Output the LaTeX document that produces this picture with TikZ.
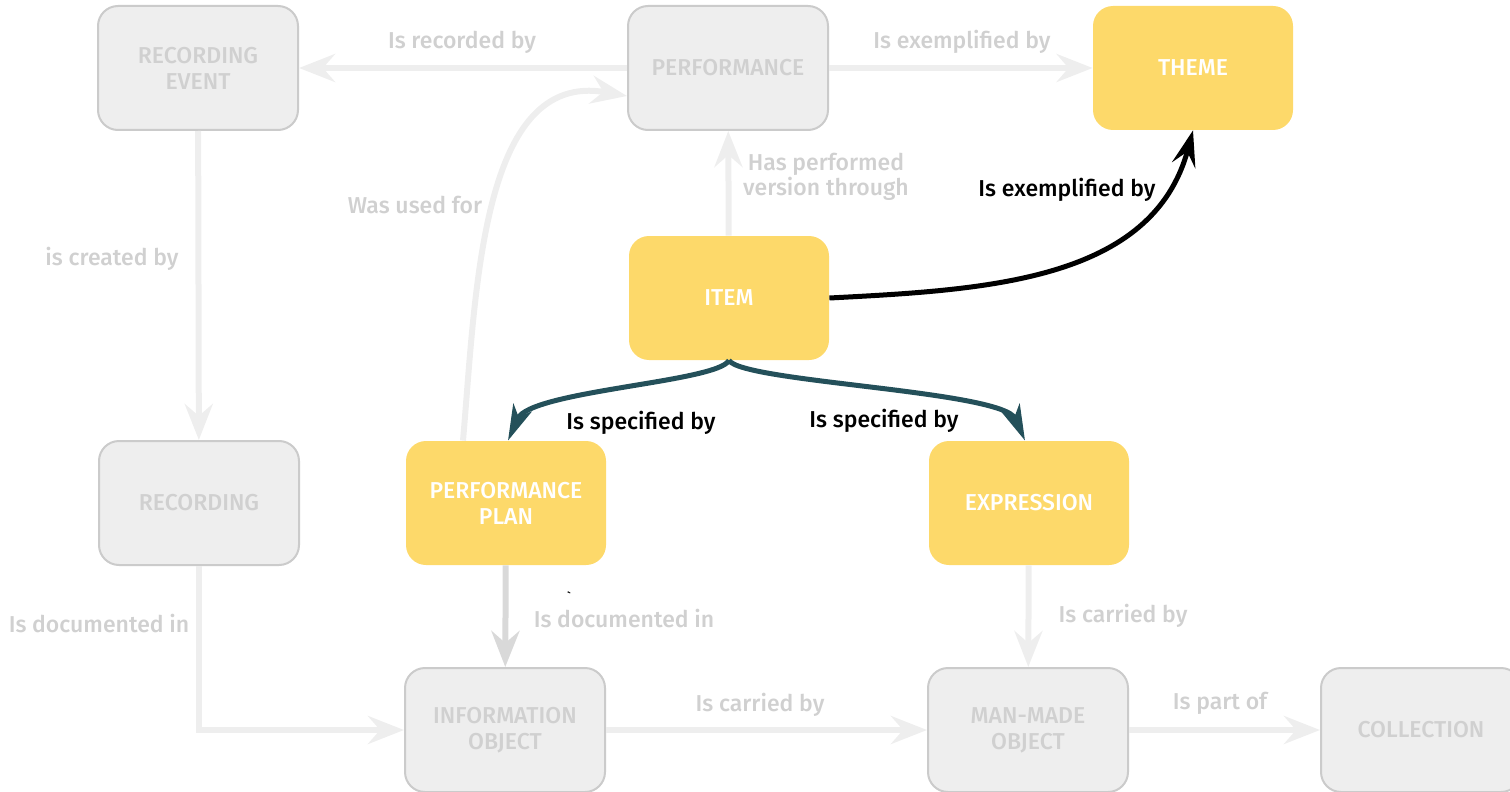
\documentclass[tikz,border=0pt]{standalone}
\usepackage{fontspec}
\setmainfont{Fira Sans Medium}
\usetikzlibrary{arrows.meta}

\definecolor{boxgray}{HTML}{EEEEEE}
\definecolor{boxline}{HTML}{CBCBCB}
\definecolor{textgray}{HTML}{D0D0D0}
\definecolor{linegray}{HTML}{EEEEEE}
\definecolor{linedark}{HTML}{D9D9D9}
\definecolor{boxyellow}{HTML}{FDD96A}
\definecolor{teallink}{HTML}{24505A}

\begin{document}
\begin{tikzpicture}[x=0.5pt,y=0.5pt,
  box/.style={rectangle,rounded corners=10pt,minimum width=100pt,minimum height=62pt,
    align=center,font=\fontsize{11.5}{13}\selectfont},
  greybox/.style={box,fill=boxgray,draw=boxline,line width=1pt,text=textgray},
  yellowbox/.style={box,fill=boxyellow,text=white},
  lbl/.style={font=\fontsize{11.5}{12.5}\selectfont,text=textgray,align=center,inner sep=1pt},
  darklbl/.style={lbl,text=black},
  greyarrow/.style={draw=linegray,line width=3pt,
    -{Stealth[length=18pt,width=14pt,inset=6pt]}},
  tealarrow/.style={draw=teallink,line width=2.5pt,
    -{Stealth[length=18pt,width=10pt,inset=5pt]}},
  blackarrow/.style={draw=black,line width=2.5pt,
    -{Stealth[length=18pt,width=12pt,inset=7pt]}}]
\useasboundingbox (0,0) rectangle (1510,-792);

% the boxes
\node[greybox] (recevent) at (198,-68) {RECORDING\\EVENT};
\node[greybox] (perf) at (728,-68) {PERFORMANCE};
\node[yellowbox] (theme) at (1193,-68) {THEME};
\node[yellowbox] (item) at (729,-298) {ITEM};
\node[greybox] (rec) at (199,-503) {RECORDING};
\node[yellowbox] (plan) at (506,-503) {PERFORMANCE\\PLAN};
\node[yellowbox] (expr) at (1029,-503) {EXPRESSION};
\node[greybox] (info) at (505,-730) {INFORMATION\\OBJECT};
\node[greybox] (mmo) at (1028,-730) {MAN-MADE\\OBJECT};
\node[greybox] (coll) at (1421,-730) {COLLECTION};

% the grey links
\draw[greyarrow] (perf) -- (recevent);
\draw[greyarrow] (perf) -- (theme);
\draw[greyarrow] (item) -- (perf);
\draw[greyarrow] (recevent) -- (rec);
\draw[greyarrow] ([xshift=-21.5pt]plan.north)
  to[out=85,in=170] ([yshift=-14pt]perf.west);
\draw[greyarrow] (rec.south) |- (info.west);
\draw[greyarrow,draw=linedark] (plan) -- (info);
\draw[greyarrow] (expr) -- (mmo);
\draw[greyarrow] (info) -- (mmo);
\draw[greyarrow] (mmo) -- (coll);

% the dark links
\draw[blackarrow] (item.east) to[out=3,in=-105] (theme.south);
\draw[tealarrow] (item.south) .. controls +(-12,-22) and +(22,50) .. ([xshift=1pt]plan.north);
\draw[tealarrow] (item.south) .. controls +(14,-22) and +(-22,50) .. ([xshift=-2pt]expr.north);

% the labels
\node[lbl] (l-recorded) at (462,-42) {Is recorded by};
\node[lbl] (l-exgrey) at (962,-42) {Is exemplified by};
\node[lbl] (l-performed) at (826,-177) {Has performed\\version through};
\node[darklbl] (l-exblack) at (1067,-190) {Is exemplified by};
\node[lbl] (l-used) at (415,-205) {Was used for};
\node[lbl] (l-created) at (112,-259) {is created by};
\node[darklbl] (l-specleft) at (641,-423) {Is specified by};
\node[darklbl] (l-specright) at (884,-421) {Is specified by};
\node[lbl] (l-docleft) at (99,-624) {Is documented in};
\node[lbl] (l-docmid) at (624,-619) {Is documented in};
\node[darklbl,font=\fontsize{6}{6}\selectfont] (l-tick) at (569,-597) {\textasciigrave};
\node[lbl] (l-carried) at (1123,-616) {Is carried by};
\node[lbl] (l-carriedlow) at (760,-705) {Is carried by};
\node[lbl] (l-part) at (1220,-703) {Is part of};

\end{tikzpicture}
\end{document}
